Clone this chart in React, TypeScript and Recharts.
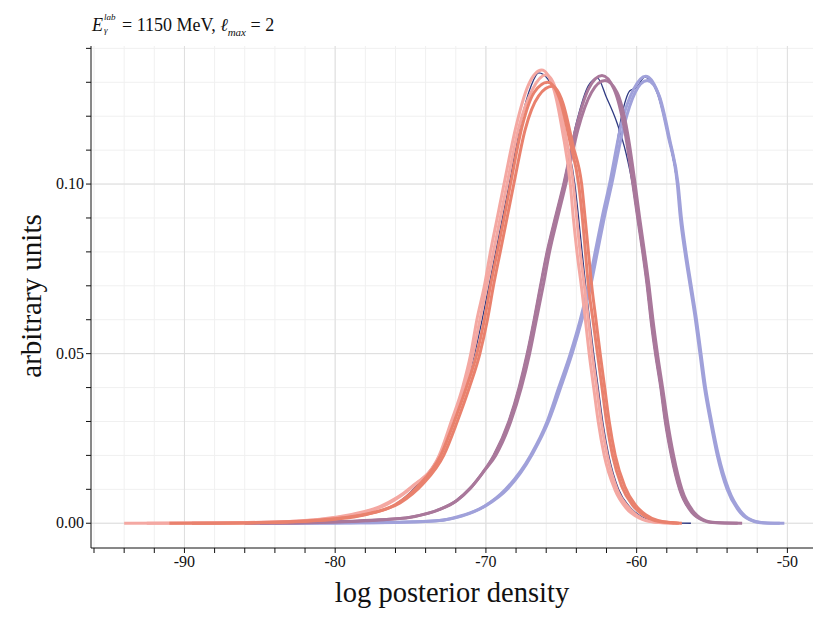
import { LineChart, Line, XAxis, YAxis, CartesianGrid, Label } from "recharts";

// tick positions
const X_TICKS = [-96, -94, -92, -90, -88, -86, -84, -82, -80, -78, -76, -74, -72, -70, -68, -66, -64, -62, -60, -58, -56, -54, -52, -50];
const X_MAJOR = [-90, -80, -70, -60, -50];
const Y_TICKS = [0, 0.01, 0.02, 0.03, 0.04, 0.05, 0.06, 0.07, 0.08, 0.09, 0.1, 0.11, 0.12, 0.13, 0.14];
const Y_MAJOR = [0, 0.05, 0.1];

// [log posterior density, density]
const PINK_A = [
  [-94, 0], [-88, 0.0001], [-84, 0.0004], [-81, 0.0012], [-79, 0.0025], [-77, 0.005], [-75, 0.0105],
  [-73.1, 0.02], [-72.3, 0.03], [-71.55, 0.04], [-71.0, 0.05], [-70.6, 0.06], [-70.1, 0.07], [-69.7, 0.08],
  [-69.25, 0.09], [-68.8, 0.1], [-68.0, 0.117], [-67.2, 0.129], [-66.3, 0.1336], [-65.5, 0.128], [-64.9, 0.115],
  [-64.4, 0.1], [-64.2, 0.09], [-63.96, 0.08], [-63.67, 0.07], [-63.4, 0.06], [-63.15, 0.05], [-62.85, 0.04],
  [-62.55, 0.03], [-62.15, 0.02], [-61.45, 0.01], [-60.7, 0.0045], [-59.8, 0.0015], [-58.8, 0.0003], [-57.5, 0],
];
const PINK_B = [
  [-92.5, 0], [-87, 0.0001], [-83, 0.0005], [-80.5, 0.0013], [-78.5, 0.0027], [-76.6, 0.0055], [-74.8, 0.011],
  [-73.0, 0.02], [-72.15, 0.03], [-71.4, 0.04], [-70.85, 0.05], [-70.4, 0.06], [-69.95, 0.07], [-69.5, 0.08],
  [-69.05, 0.09], [-68.6, 0.1], [-67.8, 0.117], [-66.9, 0.128], [-66.0, 0.1322], [-65.3, 0.127], [-64.7, 0.114],
  [-64.2, 0.1], [-63.98, 0.09], [-63.75, 0.08], [-63.47, 0.07], [-63.2, 0.06], [-62.95, 0.05], [-62.65, 0.04],
  [-62.35, 0.03], [-61.95, 0.02], [-61.3, 0.01], [-60.5, 0.0045], [-59.65, 0.0014], [-58.7, 0.0003], [-57.3, 0],
];
const CORAL_A = [
  [-91, 0], [-86, 0.0001], [-82, 0.0006], [-80, 0.0012], [-78, 0.0025], [-76, 0.0055], [-74.5, 0.011],
  [-73.0, 0.02], [-72.1, 0.03], [-71.3, 0.04], [-70.6, 0.05], [-70.1, 0.06], [-69.7, 0.07], [-69.25, 0.08],
  [-68.8, 0.09], [-68.37, 0.1], [-67.6, 0.117], [-66.8, 0.127], [-65.9, 0.13], [-65.1, 0.125], [-64.4, 0.112],
  [-63.85, 0.1], [-63.6, 0.09], [-63.4, 0.08], [-63.2, 0.07], [-62.9, 0.06], [-62.6, 0.05], [-62.3, 0.04],
  [-62.0, 0.03], [-61.6, 0.02], [-61.0, 0.011], [-60.3, 0.0055], [-59.6, 0.0025], [-58.8, 0.0008],
  [-57.9, 0.0002], [-57.0, 0],
];
const CORAL_B = [
  [-89.5, 0], [-85, 0.0002], [-81.5, 0.0008], [-79.5, 0.0016], [-77.6, 0.003], [-75.7, 0.006], [-74.2, 0.0115],
  [-72.8, 0.02], [-71.9, 0.03], [-71.1, 0.04], [-70.4, 0.05], [-69.9, 0.06], [-69.5, 0.07], [-69.05, 0.08],
  [-68.6, 0.09], [-68.15, 0.1], [-67.4, 0.116], [-66.5, 0.126], [-65.6, 0.1288], [-64.9, 0.124], [-64.2, 0.111],
  [-63.65, 0.1], [-63.42, 0.09], [-63.2, 0.08], [-62.98, 0.07], [-62.7, 0.06], [-62.42, 0.05], [-62.12, 0.04],
  [-61.82, 0.03], [-61.42, 0.02], [-60.8, 0.011], [-60.1, 0.0055], [-59.4, 0.0025], [-58.6, 0.0008],
  [-57.7, 0.0002], [-57.2, 0],
];
const NAVY_S = [
  [-88, 0], [-85, 0.0002], [-82, 0.0006], [-80, 0.0013], [-78, 0.0026], [-76, 0.0056], [-74.6, 0.011],
  [-73.1, 0.02], [-72.2, 0.03], [-71.4, 0.04], [-70.75, 0.05], [-70.25, 0.06], [-69.8, 0.07], [-69.35, 0.08],
  [-68.9, 0.09], [-68.45, 0.1], [-67.7, 0.118], [-67.0, 0.129], [-66.5, 0.1328], [-65.9, 0.131], [-65.2, 0.124],
  [-64.6, 0.112], [-64.1, 0.1], [-63.85, 0.09], [-63.62, 0.08], [-63.38, 0.07], [-63.12, 0.06], [-62.85, 0.05],
  [-62.55, 0.04], [-62.25, 0.03], [-61.85, 0.02], [-61.2, 0.01], [-60.5, 0.005], [-59.7, 0.002],
  [-58.8, 0.0006], [-57.8, 0.0001], [-56.4, 0],
];
const MAUVE_A = [
  [-86, 0], [-82, 0.0002], [-79, 0.0006], [-77, 0.001], [-75, 0.0018], [-73.1, 0.004], [-72, 0.0065],
  [-71.1, 0.01], [-70.2, 0.015], [-69.47, 0.02], [-68.48, 0.03], [-67.8, 0.04], [-67.26, 0.05], [-66.8, 0.06],
  [-66.38, 0.07], [-65.94, 0.08], [-65.4, 0.09], [-64.84, 0.1], [-64.0, 0.117], [-63.2, 0.128], [-62.3, 0.132],
  [-61.5, 0.128], [-60.8, 0.116], [-60.25, 0.1], [-59.93, 0.09], [-59.6, 0.08], [-59.3, 0.07], [-59.05, 0.06],
  [-58.75, 0.05], [-58.4, 0.04], [-58.1, 0.03], [-57.7, 0.02], [-57.15, 0.01], [-56.3, 0.003], [-55.5, 0.0007],
  [-55.0, 0.0002], [-53.0, 0],
];
const MAUVE_B = [
  [-85, 0], [-81, 0.0002], [-78.5, 0.0006], [-76.6, 0.0011], [-74.7, 0.002], [-73.0, 0.0042], [-71.9, 0.0068],
  [-71.0, 0.0105], [-70.1, 0.0155], [-69.35, 0.02], [-68.35, 0.03], [-67.65, 0.04], [-67.1, 0.05], [-66.65, 0.06],
  [-66.2, 0.07], [-65.78, 0.08], [-65.25, 0.09], [-64.7, 0.1], [-63.9, 0.116], [-63.0, 0.127], [-62.1, 0.1305],
  [-61.3, 0.127], [-60.6, 0.115], [-60.1, 0.1], [-59.8, 0.09], [-59.48, 0.08], [-59.18, 0.07], [-58.92, 0.06],
  [-58.62, 0.05], [-58.28, 0.04], [-57.95, 0.03], [-57.55, 0.02], [-57.0, 0.01], [-56.15, 0.003], [-55.4, 0.0007],
  [-54.8, 0.0002], [-53.3, 0],
];
const NAVY_M = [
  [-84, 0], [-80, 0.0003], [-77, 0.001], [-75, 0.0018], [-73.1, 0.004], [-72, 0.0066], [-71.1, 0.0102],
  [-70.2, 0.015], [-69.5, 0.02], [-68.5, 0.03], [-67.82, 0.04], [-67.28, 0.05], [-66.82, 0.06], [-66.4, 0.07],
  [-65.96, 0.08], [-65.42, 0.09], [-64.86, 0.1], [-64.0, 0.118], [-63.2, 0.129], [-62.6, 0.1312], [-62.0, 0.1255],
  [-61.3, 0.118], [-60.7, 0.109], [-60.28, 0.1], [-59.95, 0.09], [-59.62, 0.08], [-59.32, 0.07], [-59.07, 0.06],
  [-58.77, 0.05], [-58.42, 0.04], [-58.12, 0.03], [-57.72, 0.02], [-57.17, 0.01], [-56.3, 0.003], [-55.5, 0.0007],
  [-54.5, 0.0001], [-53.5, 0],
];
const LAV_A = [
  [-86, 0], [-80, 0.0001], [-76, 0.0003], [-73.1, 0.0008], [-71.8, 0.002], [-70.1, 0.005], [-68.7, 0.01],
  [-67.04, 0.02], [-65.94, 0.03], [-65.17, 0.04], [-64.4, 0.05], [-63.74, 0.06], [-63.2, 0.07], [-62.75, 0.08],
  [-62.3, 0.09], [-61.8, 0.1], [-61.0, 0.118], [-60.2, 0.128], [-59.4, 0.1318], [-58.6, 0.127], [-57.9, 0.114],
  [-57.3, 0.1], [-57.1, 0.09], [-56.8, 0.08], [-56.45, 0.07], [-56.1, 0.06], [-55.8, 0.05], [-55.5, 0.04],
  [-55.1, 0.03], [-54.65, 0.02], [-54.0, 0.01], [-53.1, 0.003], [-52.2, 0.0005], [-51.6, 0.0001], [-50.5, 0],
];
const LAV_B = [
  [-84, 0], [-79, 0.0001], [-75.5, 0.0003], [-72.9, 0.0009], [-71.6, 0.0021], [-70.0, 0.0052], [-68.55, 0.0102],
  [-66.9, 0.0205], [-65.8, 0.0305], [-65.0, 0.0405], [-64.25, 0.0505], [-63.6, 0.0605], [-63.05, 0.07],
  [-62.6, 0.08], [-62.15, 0.09], [-61.65, 0.1], [-60.85, 0.117], [-60.1, 0.127], [-59.3, 0.1305], [-58.5, 0.126],
  [-57.8, 0.113], [-57.25, 0.1], [-57.03, 0.09], [-56.73, 0.08], [-56.38, 0.07], [-56.03, 0.06], [-55.73, 0.05],
  [-55.43, 0.04], [-55.03, 0.03], [-54.57, 0.02], [-53.9, 0.01], [-53.0, 0.003], [-52.1, 0.0005],
  [-51.3, 0.0001], [-50.2, 0],
];
const NAVY_L = [
  [-84, 0], [-79, 0.0001], [-75.5, 0.0003], [-73, 0.0009], [-71.7, 0.002], [-70.1, 0.005], [-68.65, 0.0101],
  [-67.0, 0.0202], [-65.9, 0.0302], [-65.12, 0.0402], [-64.35, 0.0502], [-63.7, 0.0602], [-63.15, 0.07],
  [-62.7, 0.08], [-62.22, 0.09], [-61.7, 0.1], [-61.0, 0.12], [-60.45, 0.1275], [-60.0, 0.1285], [-59.45, 0.1315],
  [-58.65, 0.127], [-57.9, 0.114], [-57.3, 0.1], [-57.05, 0.09], [-56.75, 0.08], [-56.4, 0.07], [-56.05, 0.06],
  [-55.75, 0.05], [-55.45, 0.04], [-55.05, 0.03], [-54.6, 0.02], [-53.95, 0.01], [-53.05, 0.003], [-52.1, 0.0005],
  [-51.4, 0.0001], [-50.6, 0],
];

const NAVY = "#2f3a82";
const PINK = "#f4a8a2";
const CORAL = "#e9816d";
const MAUVE = "#a9789b";
const LAV = "#a0a1da";

const SERIES = [
  { name: "navyS", pts: NAVY_S, color: NAVY, w: 1.3 },
  { name: "navyM", pts: NAVY_M, color: NAVY, w: 1.3 },
  { name: "navyL", pts: NAVY_L, color: NAVY, w: 1.3 },
  { name: "lavA", pts: LAV_A, color: LAV, w: 3 },
  { name: "lavB", pts: LAV_B, color: LAV, w: 3 },
  { name: "mauveA", pts: MAUVE_A, color: MAUVE, w: 3 },
  { name: "mauveB", pts: MAUVE_B, color: MAUVE, w: 3 },
  { name: "pinkA", pts: PINK_A, color: PINK, w: 3 },
  { name: "pinkB", pts: PINK_B, color: PINK, w: 3 },
  { name: "coralA", pts: CORAL_A, color: CORAL, w: 3 },
  { name: "coralB", pts: CORAL_B, color: CORAL, w: 3 },
];

const FONT = '"Liberation Serif", "DejaVu Serif", serif';

const XTick = ({ x, y, payload }: any) =>
  X_MAJOR.includes(payload.value) ? (
    <text x={x} y={y} dy={12} textAnchor="middle" fontFamily={FONT} fontSize={16} fill="#111">
      {payload.value}
    </text>
  ) : (
    <g />
  );

const YTick = ({ x, y, payload }: any) =>
  Y_MAJOR.some((v) => Math.abs(v - payload.value) < 1e-9) ? (
    <text x={x} y={y} dy={5} textAnchor="end" fontFamily={FONT} fontSize={16} fill="#111">
      {payload.value.toFixed(2)}
    </text>
  ) : (
    <g />
  );

export default function App() {
  return (
    <div style={{ position: "absolute", left: 0, top: 0, width: 830, height: 623, background: "#fff" }}>
      <div style={{ position: "absolute", left: 92, top: 14, fontFamily: FONT, fontSize: 18, color: "#111", whiteSpace: "nowrap", lineHeight: "22px" }}>
        <i>E</i>
        <span style={{ display: "inline-block", position: "relative", width: 16, height: 10, marginRight: 3 }}>
          <i style={{ position: "absolute", left: 1, top: -8, fontSize: 9, lineHeight: "9px" }}>lab</i>
          <i style={{ position: "absolute", left: 1, top: 5, fontSize: 9, lineHeight: "9px" }}>γ</i>
        </span>
        = 1150 MeV, <i>ℓ</i>
        <sub style={{ fontSize: 11 }}>
          <i>max</i>
        </sub>{" "}
        = 2
      </div>
      <LineChart width={830} height={623} margin={{ top: 46, right: 17, bottom: 0, left: 0 }}>
        <CartesianGrid stroke="#f0f0f0" horizontalValues={Y_TICKS} verticalValues={X_TICKS} />
        <CartesianGrid stroke="#dedede" horizontalValues={Y_MAJOR} verticalValues={X_MAJOR} />
        <XAxis
          dataKey="x"
          type="number"
          domain={[-96.2, -48.3]}
          ticks={X_TICKS}
          allowDataOverflow
          height={75}
          tick={<XTick />}
          tickSize={5}
          tickLine={{ stroke: "#111" }}
          axisLine={{ stroke: "#111" }}
          interval={0}
        >
          <Label
            content={() => (
              <text x={452} y={602} textAnchor="middle" fontFamily={FONT} fontSize={28.5} fill="#111">
                log posterior density
              </text>
            )}
          />
        </XAxis>
        <XAxis xAxisId="top" orientation="top" type="number" domain={[-96.2, -48.3]} height={0} tick={false} tickLine={false} axisLine={{ stroke: "#111" }} />
        <YAxis
          type="number"
          domain={[-0.0073, 0.1407]}
          ticks={Y_TICKS}
          allowDataOverflow
          width={91}
          tick={<YTick />}
          tickSize={5}
          tickLine={{ stroke: "#111" }}
          axisLine={{ stroke: "#111" }}
          interval={0}
        >
          <Label
            content={() => (
              <text x={41} y={296} transform="rotate(-90 41 296)" textAnchor="middle" fontFamily={FONT} fontSize={29} fill="#111">
                arbitrary units
              </text>
            )}
          />
        </YAxis>
        <YAxis yAxisId="right" orientation="right" type="number" domain={[-0.0073, 0.1407]} width={0} tick={false} tickLine={false} axisLine={{ stroke: "#111" }} />
        {SERIES.map((s) => (
          <Line
            key={s.name}
            data={s.pts.map(([x, y]) => ({ x, y }))}
            dataKey="y"
            type="monotone"
            stroke={s.color}
            strokeWidth={s.w}
            dot={false}
            activeDot={false}
            isAnimationActive={false}
          />
        ))}
      </LineChart>
    </div>
  );
}
